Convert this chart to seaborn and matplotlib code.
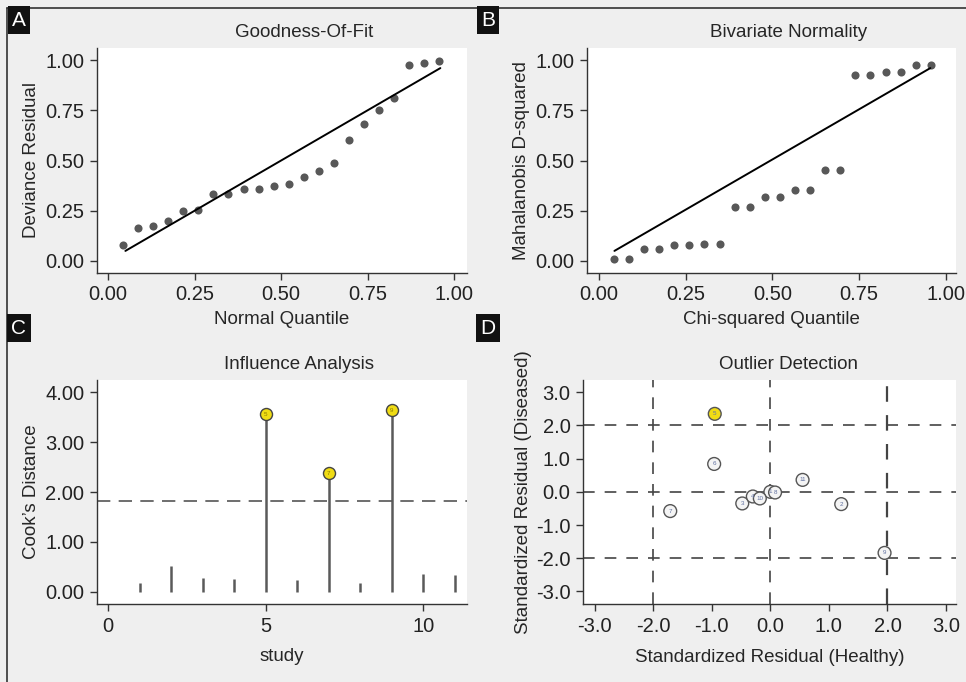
import numpy as np
import pandas as pd
import matplotlib
matplotlib.use("Agg")
import matplotlib.pyplot as plt
from matplotlib.lines import Line2D
import seaborn as sns

# --- data ---
quantile_x = [i / 23 for i in range(1, 23)]
deviance_resid = [0.078, 0.165, 0.175, 0.198, 0.248, 0.253, 0.333, 0.333, 0.358, 0.358, 0.375,
                  0.385, 0.42, 0.447, 0.487, 0.60, 0.682, 0.753, 0.81, 0.975, 0.985, 0.995]
fit_line_a = ([0.05, 0.96], [0.05, 0.96])

mahal_d2 = [0.01, 0.01, 0.057, 0.057, 0.077, 0.077, 0.085, 0.085, 0.27, 0.27, 0.318,
            0.318, 0.353, 0.353, 0.455, 0.455, 0.928, 0.928, 0.94, 0.94, 0.975, 0.975]
fit_line_b = ([0.045, 0.955], [0.05, 0.96])

study = list(range(1, 12))
cooks_d = [0.17, 0.51, 0.27, 0.26, 3.56, 0.24, 2.38, 0.17, 3.64, 0.36, 0.34]
cooks_cutoff = 1.81
influential = [5, 7, 9]

resid_healthy = [0.0, 1.21, -0.48, -0.30, -0.95, -0.96, -1.71, 0.08, 1.95, -0.18, 0.55]
resid_diseased = [0.0, -0.37, -0.35, -0.14, 2.35, 0.84, -0.58, -0.02, -1.84, -0.20, 0.36]
outlier_studies = [5]
ref_lines = [-2.0, 0.0, 2.0]

# --- style ---
sns.set_style("ticks")
plt.rcParams['font.family'] = ['Liberation Sans', 'DejaVu Sans']
plt.rcParams['axes.unicode_minus'] = False
plt.rcParams['axes.edgecolor'] = '#333333'
plt.rcParams['xtick.color'] = '#333333'
plt.rcParams['ytick.color'] = '#333333'
plt.rcParams['xtick.labelcolor'] = '#222222'
plt.rcParams['ytick.labelcolor'] = '#222222'

bg = '#efefef'
dot_color = '#585858'
fig = plt.figure(figsize=(9.66, 6.82), dpi=100, facecolor=bg)

W, H = 966, 682
def px_axes(x0, y0, x1, y1):
    return fig.add_axes([x0 / W, 1 - y1 / H, (x1 - x0) / W, (y1 - y0) / H])

axA = px_axes(97, 48, 467, 273)
axB = px_axes(587, 48, 956, 273)
axC = px_axes(97, 380, 467, 604)
axD = px_axes(583, 380, 956, 604)

tick_fs = 14.5
label_fs = 13.5
title_fs = 13.5

def style_axes(ax):
    ax.set_facecolor('white')
    sns.despine(ax=ax)
    ax.tick_params(length=5, width=1, pad=4, labelsize=tick_fs)
    for s in ('left', 'bottom'):
        ax.spines[s].set_linewidth(1.0)

# --- A: Goodness-of-fit ---
dfA = pd.DataFrame({'q': quantile_x, 'r': deviance_resid})
sns.scatterplot(data=dfA, x='q', y='r', ax=axA, color=dot_color, s=34, linewidth=0)
sns.lineplot(x=fit_line_a[0], y=fit_line_a[1], ax=axA, color='black', lw=1.4)
axA.set_xlim(-0.032, 1.037)
axA.set_ylim(-0.06, 1.06)
axA.set_xticks([0, 0.25, 0.5, 0.75, 1.0])
axA.set_yticks([0, 0.25, 0.5, 0.75, 1.0])
axA.xaxis.set_major_formatter('{x:.2f}')
axA.yaxis.set_major_formatter('{x:.2f}')
axA.set_xlabel('Normal Quantile', fontsize=label_fs, labelpad=5)
axA.set_ylabel('Deviance Residual', fontsize=label_fs, labelpad=4)
axA.set_title('Goodness-Of-Fit', fontsize=title_fs, x=0.56, pad=8)
style_axes(axA)

# --- B: Bivariate normality ---
dfB = pd.DataFrame({'q': quantile_x, 'd2': mahal_d2})
sns.scatterplot(data=dfB, x='q', y='d2', ax=axB, color=dot_color, s=34, linewidth=0)
sns.lineplot(x=fit_line_b[0], y=fit_line_b[1], ax=axB, color='black', lw=1.4)
axB.set_xlim(-0.034, 1.029)
axB.set_ylim(-0.06, 1.06)
axB.set_xticks([0, 0.25, 0.5, 0.75, 1.0])
axB.set_yticks([0, 0.25, 0.5, 0.75, 1.0])
axB.xaxis.set_major_formatter('{x:.2f}')
axB.yaxis.set_major_formatter('{x:.2f}')
axB.set_xlabel('Chi-squared Quantile', fontsize=label_fs, labelpad=5)
axB.set_ylabel('Mahalanobis D-squared', fontsize=label_fs, labelpad=4)
axB.set_title('Bivariate Normality', fontsize=title_fs, x=0.545, pad=8)
style_axes(axB)

# --- C: Influence analysis ---
dfC = pd.DataFrame({'study': study, 'cd': cooks_d})
axC.vlines(dfC['study'], 0, dfC['cd'], color='#5a5a5a', lw=1.8)
axC.axhline(cooks_cutoff, color='#555555', lw=1.2, dashes=(8, 5))
hi = dfC[dfC['study'].isin(influential)]
sns.scatterplot(data=hi, x='study', y='cd', ax=axC, color='#f0dc14', s=75,
                edgecolor='#444444', linewidth=1.0, zorder=5)
for _, r in hi.iterrows():
    axC.text(r['study'], r['cd'], str(int(r['study'])), fontsize=4.5, color='#8a7a00',
             ha='center', va='center', zorder=6)
axC.set_xlim(-0.35, 11.38)
axC.set_ylim(-0.25, 4.25)
axC.set_xticks([0, 5, 10])
axC.set_yticks([0, 1, 2, 3, 4])
axC.yaxis.set_major_formatter('{x:.2f}')
axC.set_xlabel('study', fontsize=label_fs, labelpad=9)
axC.set_ylabel("Cook\u2019s Distance", fontsize=label_fs, labelpad=4)
axC.set_title('Influence Analysis', fontsize=title_fs, x=0.546, pad=8)
style_axes(axC)

# --- D: Outlier detection ---
dfD = pd.DataFrame({'study': study, 'h': resid_healthy, 'd': resid_diseased})
for v in ref_lines:
    lw = 1.6 if v == 2.0 else 1.2
    axD.axvline(v, color='#444444', lw=lw, dashes=(7, 6), zorder=1)
    axD.axhline(v, color='#444444', lw=1.2, dashes=(7, 6), zorder=1)
dfD['flag'] = np.where(dfD['study'].isin(outlier_studies), 'out', 'ok')
sns.scatterplot(data=dfD, x='h', y='d', hue='flag', palette={'ok': '#f4f4f4', 'out': '#f0dc14'},
                ax=axD, s=85, edgecolor='#555555', linewidth=1.0, legend=False, zorder=5)
for _, r in dfD.iterrows():
    axD.text(r['h'], r['d'], str(int(r['study'])), fontsize=4.5, color='#6070a0',
             ha='center', va='center', zorder=6)
axD.set_xlim(-3.2, 3.17)
axD.set_ylim(-3.38, 3.37)
axD.set_xticks([-3, -2, -1, 0, 1, 2, 3])
axD.set_yticks([-3, -2, -1, 0, 1, 2, 3])
axD.xaxis.set_major_formatter('{x:.1f}')
axD.yaxis.set_major_formatter('{x:.1f}')
axD.set_xlabel('Standardized Residual (Healthy)', fontsize=label_fs, labelpad=10)
axD.set_ylabel('Standardized Residual (Diseased)', fontsize=label_fs, labelpad=3)
axD.set_title('Outlier Detection', fontsize=title_fs, x=0.55, pad=8)
style_axes(axD)

# --- outer frame and panel letters ---
fig.add_artist(Line2D([7 / W, 1], [1 - 8 / H, 1 - 8 / H], color='#333333', lw=1.2))
fig.add_artist(Line2D([7 / W, 7 / W], [0, 1 - 8 / H], color='#333333', lw=1.2))
for letter, (px, py) in zip('ABCD', [(19, 20), (488, 20), (19, 328), (488, 328)]):
    fig.text(px / W, 1 - py / H, letter, color='white', fontsize=15, ha='center', va='center',
             bbox=dict(boxstyle='square,pad=0.2', facecolor='#111111', edgecolor='none'))

fig.savefig('out.png', dpi=100, facecolor=bg)
